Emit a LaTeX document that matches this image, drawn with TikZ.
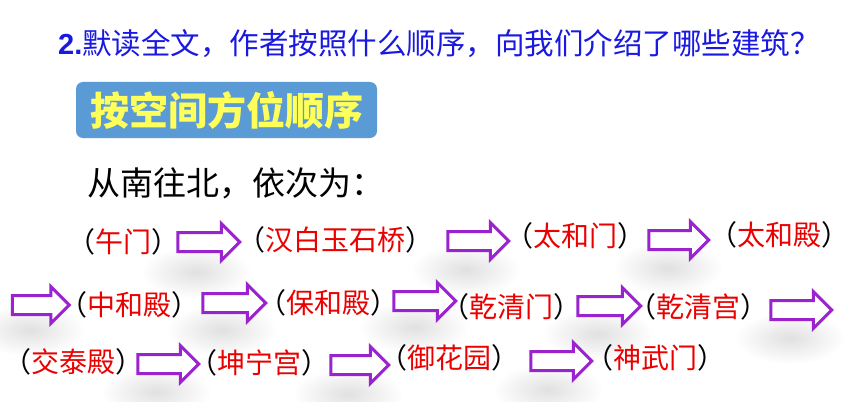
\documentclass[tikz,border=0pt]{standalone}
\usepackage{fontspec}
\setmainfont{Liberation Sans}
\newfontfamily\cjk{Noto Sans CJK SC}
\usetikzlibrary{shapes.arrows,fadings}
\definecolor{ttlblue}{RGB}{25,25,225}
\definecolor{boxblue}{RGB}{91,155,213}
\definecolor{boxyellow}{RGB}{255,255,90}
\definecolor{lblred}{RGB}{235,0,0}
\definecolor{arrpurple}{RGB}{155,35,205}
\tikzfading[name=softblob, inner color=transparent!88, outer color=transparent!100]
\newcommand\lb[1]{\kern-0.45em（\textcolor{lblred}{#1}）\kern-0.45em}
\begin{document}
\begin{tikzpicture}[x=1pt,y=-1pt,
  lbl/.style={inner sep=0pt, anchor=base, font=\cjk\fontsize{28}{28}\selectfont},
  barrow/.style={single arrow, draw=arrpurple, line width=3pt, fill=white,
    single arrow head extend=9pt, single arrow tip angle=90,
    single arrow head indent=0pt, inner xsep=0pt, inner ysep=8pt,
    minimum width=34pt, minimum height=#1},
  blob/.style={fill=black, path fading=softblob},
  ttl/.style={inner sep=0pt, anchor=base west, text=ttlblue},
  boxlbl/.style={fill=boxblue, rounded corners=7pt, inner sep=0pt,
    minimum width=301pt, minimum height=56pt, text=boxyellow,
    font=\cjk\bfseries\fontsize{39}{39}\selectfont},
  lead/.style={inner sep=0pt, anchor=base west, font=\cjk\fontsize{33}{33}\selectfont}
]
\useasboundingbox (0,0) rectangle (850,401);
\fill[white] (0,0) rectangle (850,401);

% soft shadows
\foreach \x/\y in {196/272, 466/270, 668/268, 30/330, 222/330, 414/327, 598/334, 790/338, 156/392, 348/394, 548/390}
  \fill[blob] (\x,\y) ellipse (55 and 26);

\node[ttl] (title) at (58,55) {{\bfseries\fontsize{29}{29}\selectfont 2.}{\cjk\fontsize{29.5}{29.5}\selectfont 默读全文，作者按照什么顺序，向我们介绍了哪些建筑？}};
\node[boxlbl] (box) at (226.5,110) {按空间方位顺序};
\node[lead] (lead) at (87,195) {从南往北，依次为：};

% row 1
\node[lbl] (t1) at (123.5,252.4) {\lb{午门}};
\node[barrow=62pt] (a1) at (204,242) {};
\node[lbl] (t2) at (335,250.4) {\lb{汉白玉石桥}};
\node[barrow=61pt] (a2) at (473.5,241) {};
\node[lbl] (t3) at (575,246.4) {\lb{太和门}};
\node[barrow=60pt] (a3) at (674,240) {};
\node[lbl] (t4) at (779,245.4) {\lb{太和殿}};

% row 2
\node[barrow=57pt] (a4) at (36,305) {};
\node[lbl] (t5) at (129.5,315.4) {\lb{中和殿}};
\node[barrow=63pt] (a5) at (229.5,303) {};
\node[lbl] (t6) at (328,313.4) {\lb{保和殿}};
\node[barrow=62pt] (a6) at (420,301) {};
\node[lbl] (t7) at (511,317.4) {\lb{乾清门}};
\node[barrow=63pt] (a7) at (604.5,306) {};
\node[lbl] (t8) at (698,317.4) {\lb{乾清宫}};
\node[barrow=61pt] (a8) at (796.5,310) {};

% row 3
\node[lbl] (t9) at (73,372.4) {\lb{交泰殿}};
\node[barrow=61pt] (a9) at (163.5,364) {};
\node[lbl] (t10) at (259,373.4) {\lb{坤宁宫}};
\node[barrow=58pt] (a10) at (355,365) {};
\node[lbl] (t11) at (449.5,368.4) {\lb{御花园}};
\node[barrow=61pt] (a11) at (556.5,361) {};
\node[lbl] (t12) at (655,368.4) {\lb{神武门}};
\end{tikzpicture}
\end{document}
